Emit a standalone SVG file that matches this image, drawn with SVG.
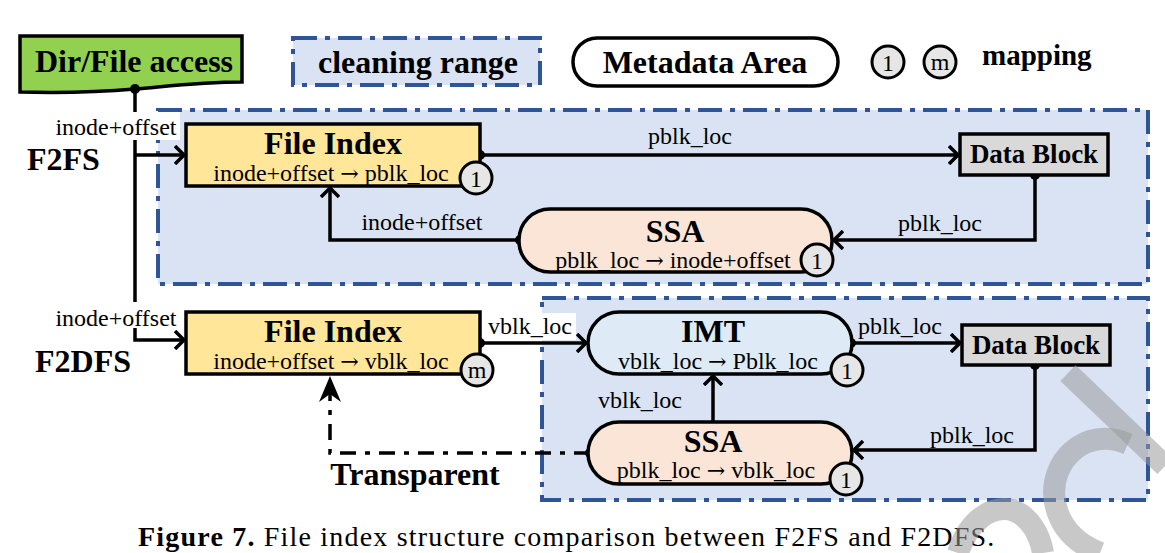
<svg xmlns="http://www.w3.org/2000/svg" width="1165" height="553" viewBox="0 0 1165 553">
<style>
.b{font-family:"Liberation Serif","Times New Roman",serif;font-weight:bold;fill:#000}
.r{font-family:"Liberation Serif","Times New Roman",serif;fill:#000}
.t32{font-size:32px}
.t24{font-size:24px}
.arw{font-family:"DejaVu Serif",serif;font-size:22px}
.region{fill:#dae3f3;stroke:#2f5597;stroke-width:4;stroke-dasharray:24 8 5 8}
.box{stroke:#000;stroke-width:3.5}
.ln{fill:none;stroke:#000;stroke-width:3.5}
.circ{fill:#e7e6e6;stroke:#000;stroke-width:3}
</style>
<defs>
<marker id="ar" viewBox="0 0 12 20" refX="10" refY="10" markerWidth="12" markerHeight="20" markerUnits="userSpaceOnUse" orient="auto">
<polyline points="1,1 10,10 1,19" fill="none" stroke="#000" stroke-width="3.5"/>
</marker>
<marker id="af" viewBox="0 0 26 22" refX="24" refY="11" markerWidth="26" markerHeight="22" markerUnits="userSpaceOnUse" orient="auto">
<path d="M0,0 L26,11 L0,22 L8,11 Z" fill="#000"/>
</marker>
</defs>

<!-- regions -->
<g id="region-f2fs"><rect class="region" x="158" y="110" width="990" height="174"/></g>
<g id="region-f2dfs"><rect class="region" x="542" y="298" width="606" height="202"/></g>

<!-- legend -->
<g id="legend-dirfile">
<path d="M20,36 H242 V82 C200,82 170,86 135,89 C100,92 60,93 20,92 Z" fill="#92d050" stroke="#000" stroke-width="3.5"/>
<text class="b t32" x="134" y="72" text-anchor="middle">Dir/File access</text>
</g>
<g id="legend-cleaning">
<rect class="region" x="293" y="38" width="247" height="47"/>
<text class="b t32" x="418" y="73" text-anchor="middle">cleaning range</text>
</g>
<g id="legend-metadata">
<rect x="573" y="38" width="265" height="48" rx="24" fill="#fff" stroke="#000" stroke-width="3.5"/>
<text class="b t32" x="705" y="73" text-anchor="middle">Metadata Area</text>
</g>
<g id="legend-mapping">
<circle class="circ" cx="888" cy="62" r="16"/>
<text class="r t24" x="888" y="71" text-anchor="middle">1</text>
<circle class="circ" cx="940" cy="62" r="16"/>
<text class="r t24" x="940" y="70" text-anchor="middle">m</text>
<text class="b" font-size="29" x="982" y="65">mapping</text>
</g>

<!-- row labels -->
<g id="label-f2fs"><text class="b t32" x="27" y="170">F2FS</text></g>
<g id="label-f2dfs"><text class="b t32" x="35" y="372">F2DFS</text></g>

<!-- connectors -->
<g id="connectors">
<circle cx="135" cy="89" r="5" fill="#000"/>
<path class="ln" d="M135,89 V340 H184" marker-end="url(#ar)"/>
<path class="ln" d="M135,155 H184" marker-end="url(#ar)"/>
<rect x="52" y="112" width="128" height="28" fill="#fff"/>
<text class="r t24" x="116" y="135" text-anchor="middle">inode+offset</text>
<rect x="52" y="302" width="128" height="26" fill="#fff"/>
<text class="r t24" x="116" y="326" text-anchor="middle">inode+offset</text>

<circle cx="480" cy="155" r="5" fill="#000"/>
<path class="ln" d="M480,155 H958" marker-end="url(#ar)"/>
<text class="r t24" x="690" y="144" text-anchor="middle">pblk_loc</text>

<circle cx="1035" cy="175" r="5" fill="#000"/>
<path class="ln" d="M1035,175 V240 H834" marker-end="url(#ar)"/>
<text class="r t24" x="940" y="231" text-anchor="middle">pblk_loc</text>

<circle cx="520" cy="240" r="5" fill="#000"/>
<path class="ln" d="M520,240 H330 V188" marker-end="url(#ar)"/>
<text class="r t24" x="422" y="230" text-anchor="middle">inode+offset</text>

<rect x="484" y="313" width="92" height="27" fill="#fff"/>
<circle cx="480" cy="343" r="5" fill="#000"/>
<path class="ln" d="M480,343 H586" marker-end="url(#ar)"/>
<text class="r t24" x="530" y="334" text-anchor="middle">vblk_loc</text>

<circle cx="851" cy="343" r="5" fill="#000"/>
<path class="ln" d="M851,343 H960" marker-end="url(#ar)"/>
<text class="r t24" x="900" y="334" text-anchor="middle">pblk_loc</text>

<circle cx="1035" cy="365" r="5" fill="#000"/>
<path class="ln" d="M1035,365 V450 H854" marker-end="url(#ar)"/>
<text class="r t24" x="972" y="443" text-anchor="middle">pblk_loc</text>

<path class="ln" d="M713,422 V376" marker-end="url(#ar)"/>
<text class="r t24" x="640" y="408" text-anchor="middle">vblk_loc</text>

<circle cx="590" cy="453" r="5" fill="#000"/>
<path class="ln" d="M590,453 H330 V378" stroke-dasharray="16 9 5 9" marker-end="url(#af)"/>
<text class="b t32" x="415" y="485" text-anchor="middle">Transparent</text>
</g>

<!-- nodes -->
<g id="f2fs-file-index">
<rect class="box" x="186" y="124" width="294" height="62" fill="#ffe699"/>
<text class="b t32" x="333" y="154" text-anchor="middle">File Index</text>
<text class="r t24" x="331" y="181" text-anchor="middle">inode+offset <tspan class="arw">→</tspan> pblk_loc</text>
<circle class="circ" cx="476" cy="178" r="16"/>
<text class="r t24" x="476" y="187" text-anchor="middle">1</text>
</g>
<g id="f2fs-data-block">
<rect class="box" x="960" y="134" width="148" height="41" fill="#d9d9d9"/>
<text class="b" font-size="27" x="1034" y="163" text-anchor="middle">Data Block</text>
</g>
<g id="f2fs-ssa">
<rect class="box" x="519" y="209" width="313" height="63" rx="31" fill="#fbe5d6"/>
<text class="b t32" x="675" y="242" text-anchor="middle">SSA</text>
<text class="r t24" x="673" y="268" text-anchor="middle">pblk_loc <tspan class="arw">→</tspan> inode+offset</text>
<circle class="circ" cx="817" cy="260" r="16"/>
<text class="r t24" x="817" y="269" text-anchor="middle">1</text>
</g>

<g id="f2dfs-file-index">
<rect class="box" x="186" y="312" width="294" height="62" fill="#ffe699"/>
<text class="b t32" x="333" y="342" text-anchor="middle">File Index</text>
<text class="r t24" x="331" y="369" text-anchor="middle">inode+offset <tspan class="arw">→</tspan> vblk_loc</text>
<circle class="circ" cx="477" cy="370" r="16"/>
<text class="r t24" x="477" y="378" text-anchor="middle">m</text>
</g>
<g id="f2dfs-imt">
<rect class="box" x="588" y="312" width="264" height="62" rx="31" fill="#deebf7"/>
<text class="b t32" x="713" y="342" text-anchor="middle">IMT</text>
<text class="r t24" x="718" y="369" text-anchor="middle">vblk_loc <tspan class="arw">→</tspan> Pblk_loc</text>
<circle class="circ" cx="847" cy="370" r="16"/>
<text class="r t24" x="847" y="379" text-anchor="middle">1</text>
</g>
<g id="f2dfs-data-block">
<rect class="box" x="962" y="325" width="148" height="40" fill="#d9d9d9"/>
<text class="b" font-size="27" x="1036" y="354" text-anchor="middle">Data Block</text>
</g>
<g id="f2dfs-ssa">
<rect class="box" x="588" y="422" width="264" height="62" rx="31" fill="#fbe5d6"/>
<text class="b t32" x="713" y="452" text-anchor="middle">SSA</text>
<text class="r t24" x="716" y="478" text-anchor="middle">pblk_loc <tspan class="arw">→</tspan> vblk_loc</text>
<circle class="circ" cx="846" cy="479" r="16"/>
<text class="r t24" x="846" y="488" text-anchor="middle">1</text>
</g>

<!-- caption -->
<text class="r" font-size="28" letter-spacing="1.2" x="138" y="546"><tspan font-weight="bold">Figure 7.</tspan>  File index structure comparison between F2FS and F2DFS.</text>

<!-- watermark -->
<g fill="none" stroke="#9a9a9a" stroke-opacity="0.55" stroke-width="22">
<path d="M1068,373 L1165,466"/>
<path d="M1128,444 C1085,425 1048,462 1055,502 C1060,530 1080,545 1100,553"/>
<path d="M958,553 C968,522 990,505 1012,510 C1030,516 1040,535 1043,553"/>
</g>
</svg>
